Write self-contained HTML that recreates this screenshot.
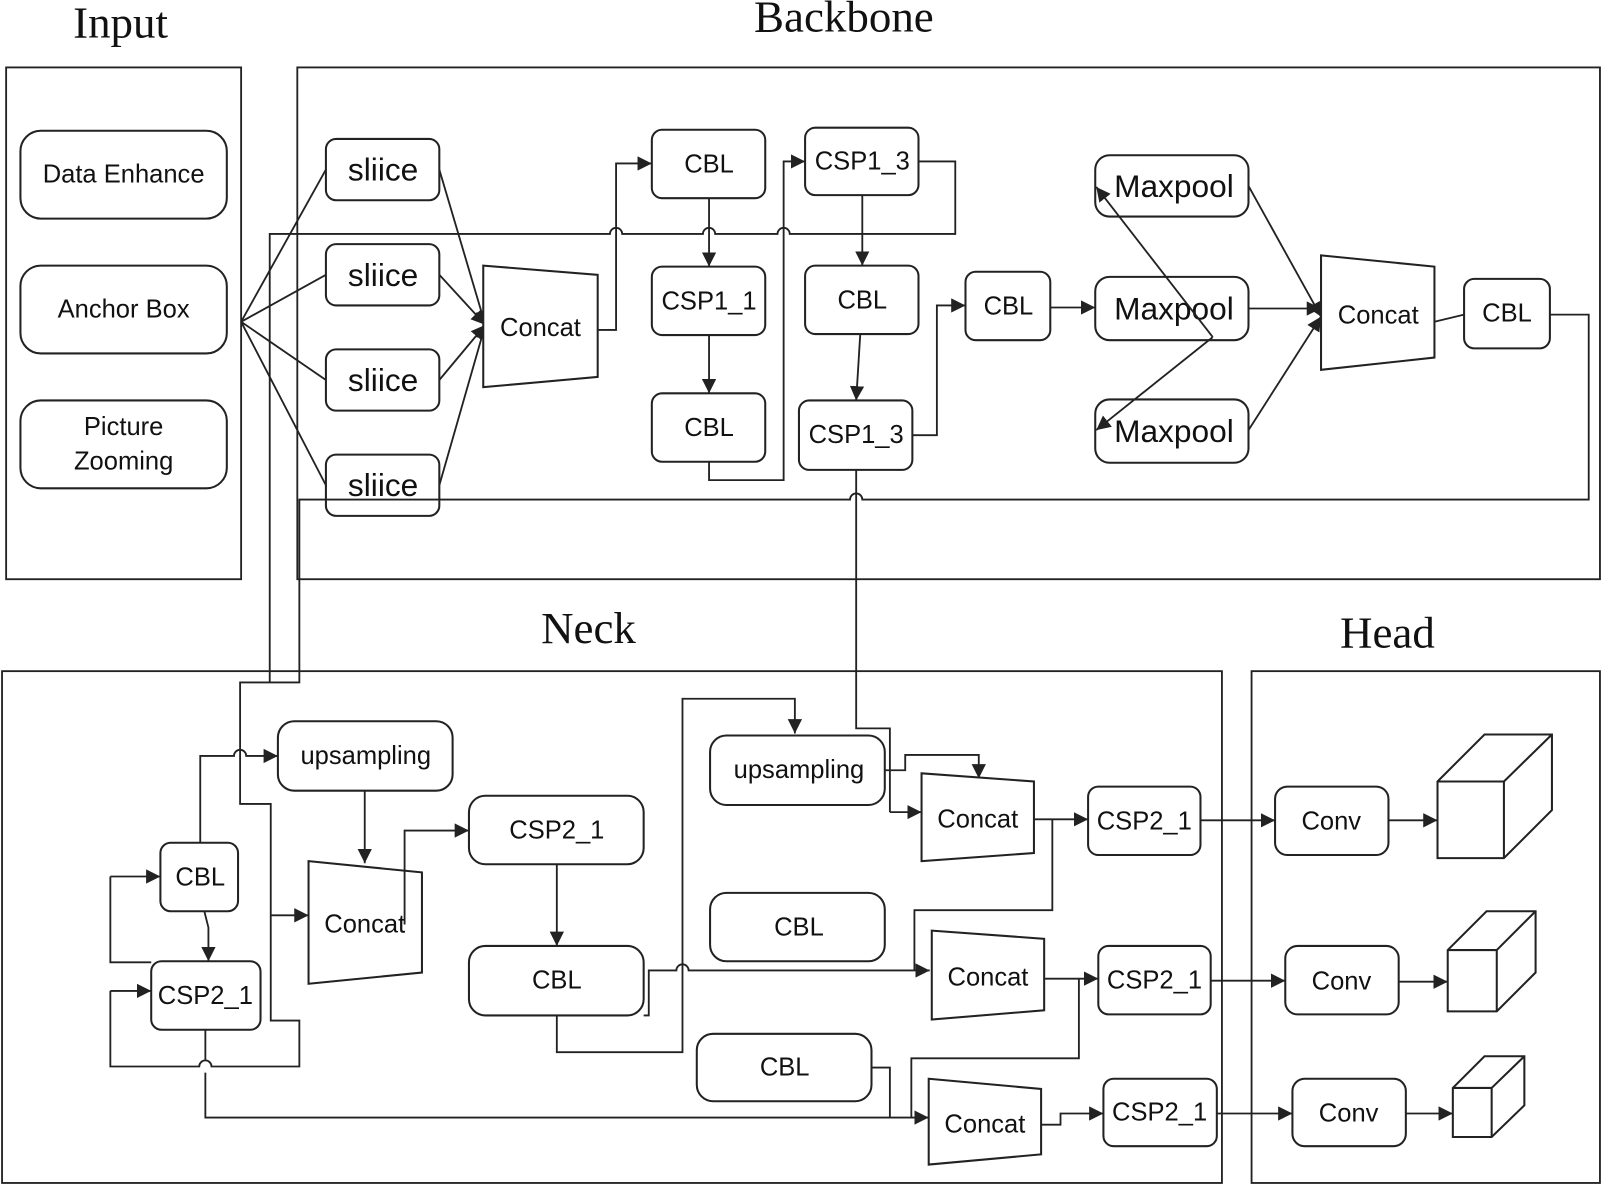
<!DOCTYPE html>
<html><head><meta charset="utf-8"><style>
html,body{margin:0;padding:0;background:#fff;}
svg{display:block;}
text{font-family:"Liberation Sans",sans-serif;fill:#111;text-anchor:middle;dominant-baseline:central;}
.t{font-family:"Liberation Serif",serif;font-size:44px;}
.b{fill:#fff;stroke:#222;stroke-width:2;}
.l{fill:none;stroke:#222;stroke-width:1.8;}
.a{fill:none;stroke:#222;stroke-width:1.8;marker-end:url(#ar2);}
</style></head><body>
<svg width="1602" height="1185" viewBox="0 0 1568 1160" preserveAspectRatio="none" xmlns="http://www.w3.org/2000/svg">
<defs>
<marker id="ar2" viewBox="0 0 10 10" refX="10" refY="5" markerWidth="14" markerHeight="14" markerUnits="userSpaceOnUse" orient="auto"><path d="M0,0 L10,5 L0,10 z" fill="#222"/></marker></defs>
<!-- titles -->
<text class="t" x="118" y="22">Input</text>
<text class="t" x="826" y="16">Backbone</text>
<text class="t" x="576" y="615">Neck</text>
<text class="t" x="1358" y="619">Head</text>
<!-- frames -->
<rect x="6" y="66" width="230" height="501" class="l" stroke-width="2"/>
<rect x="291" y="66" width="1275" height="501" class="l" stroke-width="2"/>
<rect x="2" y="657" width="1194" height="501" class="l" stroke-width="2"/>
<rect x="1225" y="657" width="341" height="501" class="l" stroke-width="2"/>

<!-- Input -->
<rect x="20" y="128" width="202" height="86" rx="20" class="b"/><text x="121" y="171" font-size="25">Data Enhance</text>
<rect x="20" y="260" width="202" height="86" rx="20" class="b"/><text x="121" y="303" font-size="25">Anchor Box</text>
<rect x="20" y="392" width="202" height="86" rx="20" class="b"/><text x="121" y="418" font-size="25">Picture</text><text x="121" y="452" font-size="25">Zooming</text>

<path class="l" d="M236,315 L319,166 M236,315 L319,269 M236,315 L319,372 M236,315 L319,475"/>
<path class="l" d="M899,158 H935 V229 H773 A6,6 0 0 0 761,229 H700 A6,6 0 0 0 688,229 H609 A6,6 0 0 0 597,229 H264 V668"/>
<path class="l" d="M1517,308 H1555 V489 H844 A6,6 0 0 0 832,489 H293 V668 H235 V740"/>
<g font-size="31">
<rect x="319" y="136" width="111" height="60" rx="10" class="b"/><text x="375" y="166">sliice</text>
<rect x="319" y="239" width="111" height="60" rx="10" class="b"/><text x="375" y="269">sliice</text>
<rect x="319" y="342" width="111" height="60" rx="10" class="b"/><text x="375" y="372">sliice</text>
<rect x="319" y="445" width="111" height="60" rx="10" class="b" style="fill:none"/><text x="375" y="475">sliice</text>
</g>
<path class="a" d="M430,166 L475,318"/><path class="a" d="M430,269 L475,318"/><path class="a" d="M430,372 L475,318"/><path class="a" d="M430,475 L475,318"/>
<polygon class="b" points="473,260 585,269 585,369 473,379"/><text x="529" y="321" font-size="25">Concat</text>
<path class="a" d="M585,323 H603 V160 H638"/>
<g font-size="25">
<rect x="638" y="127" width="111" height="67" rx="10" class="b"/><text x="694" y="161">CBL</text>
<rect x="638" y="261" width="111" height="67" rx="10" class="b"/><text x="694" y="295">CSP1_1</text>
<rect x="638" y="385" width="111" height="67" rx="10" class="b"/><text x="694" y="419">CBL</text>
<rect x="788" y="125" width="111" height="66" rx="10" class="b"/><text x="844" y="158">CSP1_3</text>
<rect x="788" y="260" width="111" height="67" rx="10" class="b"/><text x="844" y="294">CBL</text>
<rect x="782" y="392" width="111" height="68" rx="10" class="b"/><text x="838" y="426">CSP1_3</text>
<rect x="945" y="266" width="83" height="67" rx="10" class="b"/><text x="987" y="300">CBL</text>
<rect x="1433" y="273" width="84" height="68" rx="10" class="b"/><text x="1475" y="307">CBL</text>
</g>
<path class="a" d="M694,194 V261"/><path class="a" d="M694,328 V385"/>
<path class="a" d="M694,452 V470 H767 V158 H788"/>
<path class="a" d="M844,191 V260"/><path class="a" d="M842,327 L838,392"/>
<path class="a" d="M893,426 H917 V299 H945"/>
<g font-size="31">
<rect x="1072" y="152" width="150" height="60" rx="14" class="b"/><text x="1149" y="182">Maxpool</text>
<rect x="1072" y="271" width="150" height="62" rx="14" class="b"/><text x="1149" y="302">Maxpool</text>
<rect x="1072" y="391" width="150" height="62" rx="14" class="b"/><text x="1149" y="422">Maxpool</text>
</g>
<path class="a" d="M1028,301 H1072"/>
<path class="a" d="M1187,330 L1073,183"/><path class="a" d="M1187,330 L1073,421"/>
<path class="a" d="M1222,182 L1293,310"/><path class="a" d="M1222,302 L1293,302"/><path class="a" d="M1222,421 L1293,310"/>
<polygon class="b" points="1293,250 1404,261 1404,350 1293,362"/><text x="1349" y="309" font-size="25">Concat</text>
<path class="l" d="M1404,315 L1433,308"/>

<!-- Neck left -->
<path class="l" d="M235,740 V787 H265 V999 H293 V1044 H207 A6,6 0 0 0 195,1044 H108 V970"/>
<path class="a" d="M108,970 H148"/>
<path class="a" d="M265,896 H302"/>
<path class="a" d="M196,825 V740 H229 A6,6 0 0 1 241,740 H272"/>
<path class="l" d="M148,942 H108 V858"/><path class="a" d="M108,858 H157"/>
<path class="a" d="M200,892 L204,908 V941"/>
<path class="a" d="M201,1008 V1038 M201,1050 V1094 H909"/>
<g font-size="25">
<rect x="157" y="825" width="76" height="67" rx="10" class="b"/><text x="196" y="859">CBL</text>
<rect x="148" y="941" width="107" height="67" rx="10" class="b"/><text x="201" y="975">CSP2_1</text>
<rect x="272" y="706" width="171" height="68" rx="16" class="b"/><text x="358" y="740">upsampling</text>
<rect x="459" y="779" width="171" height="67" rx="16" class="b"/><text x="545" y="813">CSP2_1</text>
<rect x="459" y="926" width="171" height="68" rx="16" class="b"/><text x="545" y="960">CBL</text>
<rect x="695" y="720" width="171" height="68" rx="16" class="b"/><text x="782" y="754">upsampling</text>
<rect x="695" y="874" width="171" height="67" rx="16" class="b"/><text x="782" y="908">CBL</text>
<rect x="682" y="1012" width="171" height="66" rx="16" class="b"/><text x="768" y="1045">CBL</text>
<rect x="1065" y="770" width="110" height="67" rx="10" class="b"/><text x="1120" y="804">CSP2_1</text>
<rect x="1075" y="926" width="110" height="67" rx="10" class="b"/><text x="1130" y="960">CSP2_1</text>
<rect x="1080" y="1056" width="111" height="66" rx="10" class="b"/><text x="1135" y="1089">CSP2_1</text>
<rect x="1248" y="770" width="111" height="67" rx="12" class="b"/><text x="1303" y="804">Conv</text>
<rect x="1258" y="926" width="111" height="67" rx="12" class="b"/><text x="1313" y="961">Conv</text>
<rect x="1265" y="1056" width="111" height="66" rx="12" class="b"/><text x="1320" y="1090">Conv</text>
</g>
<path class="a" d="M357,774 V845"/>
<polygon class="b" points="302,843 413,854 413,952 302,963"/><text x="357" y="905" font-size="25">Concat</text>
<path class="a" d="M396,905 V813 H459"/>
<path class="a" d="M545,846 V926"/>
<path class="a" d="M630,994 H635 V950 H662 A6,6 0 0 1 674,950 H910"/>
<path class="a" d="M545,994 V1030 H668 V684 H778 V718"/>
<path class="l" d="M838,460 V713 H871 V795"/><path class="a" d="M871,795 H902"/>
<path class="a" d="M866,754 H886 V739 H958 V762"/>
<polygon class="b" points="902,757 1012,765 1012,835 902,843"/><text x="957" y="802" font-size="25">Concat</text>
<path class="a" d="M1012,802 H1065"/>
<path class="l" d="M1030,802 V891 H895 V950"/>
<polygon class="b" points="912,911 1022,919 1022,989 912,998"/><text x="967" y="957" font-size="25">Concat</text>
<path class="a" d="M1022,958 H1075"/>
<path class="l" d="M1056,958 V1036 H892 V1094"/>
<path class="l" d="M853,1045 H871 V1094"/>
<polygon class="b" points="909,1056 1019,1066 1019,1130 909,1140"/><text x="964" y="1101" font-size="25">Concat</text>
<path class="a" d="M1019,1101 H1038 V1090 H1080"/>
<!-- head -->
<path class="a" d="M1175,803 H1248"/><path class="a" d="M1185,960 H1258"/><path class="a" d="M1191,1090 H1265"/>
<path class="a" d="M1359,803 H1407"/><path class="a" d="M1369,961 H1417"/><path class="a" d="M1376,1090 H1422"/>
<g class="b" style="stroke-linejoin:miter">
<polygon points="1407,765 1453,719 1519,719 1519,793 1472,840 1407,840"/>
<path d="M1407,765 H1472 V840 M1472,765 L1519,719" fill="none"/>
<polygon points="1417,930 1455,892 1503,892 1503,952 1465,990 1417,990"/>
<path d="M1417,930 H1465 V990 M1465,930 L1503,892" fill="none"/>
<polygon points="1422,1065 1453,1034 1492,1034 1492,1082 1460,1113 1422,1113"/>
<path d="M1422,1065 H1460 V1113 M1460,1065 L1492,1034" fill="none"/>
</g>
</svg>
</body></html>
